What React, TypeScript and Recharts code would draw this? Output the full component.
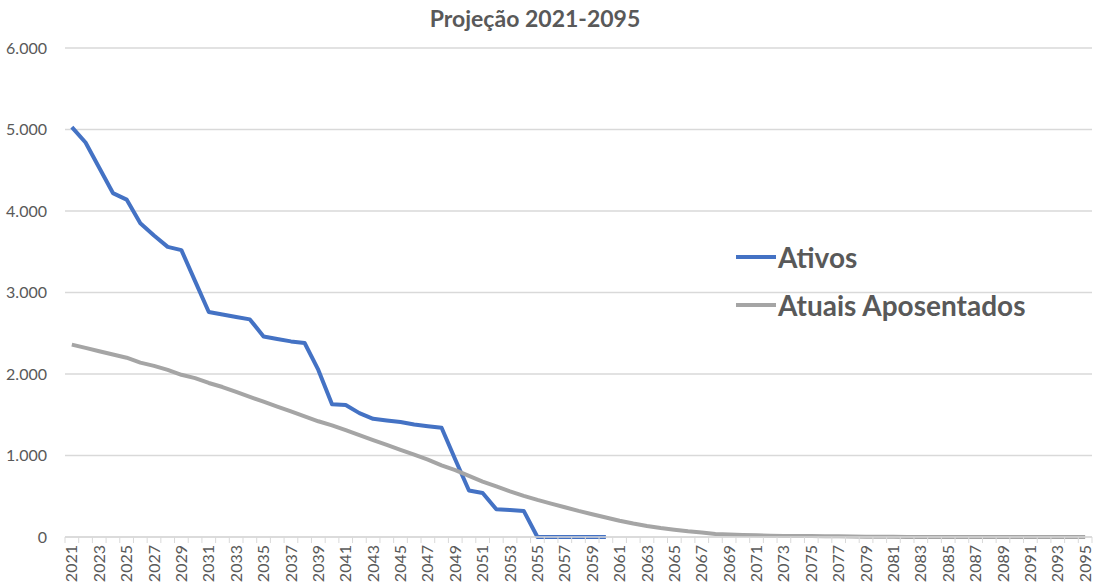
import { CartesianGrid, Legend, Line, LineChart, XAxis, YAxis } from "recharts";

const TEXT = "#595959";
const GRID = "#d9d9d9";
const BLUE = "#4472C4";
const GRAY = "#A5A5A5";
const FONT = "Lato, 'Open Sans', sans-serif";

const W = 1093;
const H = 582;
const PLOT_LEFT = 65;
const PLOT_RIGHT = 1092;
const BAND = (PLOT_RIGHT - PLOT_LEFT) / 75;

const years = Array.from({ length: 75 }, (_, i) => String(2021 + i));

// Ativos: ends at 2060
const ativos: (number | null)[] = [
  5030, 4840, 4530, 4220, 4140, 3850, 3700, 3560, 3520, 3140,
  2760, 2730, 2700, 2670, 2460, 2430, 2400, 2380, 2050, 1630,
  1620, 1520, 1450, 1430, 1410, 1380, 1360, 1340, 950, 570,
  540, 340, 330, 320, 0, 0, 0, 0, 0, 0,
];

const aposentados = [
  2360, 2320, 2280, 2240, 2200, 2140, 2100, 2050, 1990, 1950,
  1890, 1840, 1780, 1720, 1660, 1600, 1540, 1480, 1420, 1370,
  1310, 1250, 1190, 1130, 1070, 1010, 950, 880, 820, 750,
  680, 620, 560, 505, 455, 410, 365, 320, 280, 240,
  200, 165, 135, 110, 90, 70, 55, 38, 30, 25,
  20, 16, 13, 12, 11, 10, 8, 5, 3, 2,
  2, 1, 1, 1, 1, 0, 0, 0, 0, 0,
  0, 0, 0, 0, 0,
];

const yTicks = [0, 1000, 2000, 3000, 4000, 5000, 6000];

const data = years.map((year, i) => ({
  year,
  ativos: i < ativos.length ? ativos[i] : null,
  aposentados: aposentados[i],
}));

const fmt = (v: number) => v.toLocaleString("pt-BR");

const YearTick = (props: any) => {
  const { x, y, payload, index } = props;
  const i = payload?.index ?? index ?? 0;
  return (
    <g>
      <line x1={x - BAND / 2} x2={x - BAND / 2} y1={y} y2={y + 6} stroke={GRID} />
      {i === years.length - 1 && (
        <line x1={x + BAND / 2} x2={x + BAND / 2} y1={y} y2={y + 6} stroke={GRID} />
      )}
      {i % 2 === 0 && (
        <text
          x={x}
          y={y + 8}
          dy="0.35em"
          transform={`rotate(-90, ${x}, ${y + 8})`}
          textAnchor="end"
          fill={TEXT}
          fontSize={16}
          fontFamily={FONT}
        >
          {payload.value}
        </text>
      )}
    </g>
  );
};

const renderLegend = (props: any) => {
  const items = props.payload ?? [];
  return (
    <div>
      {items.map((item: any) => (
        <div
          key={item.value}
          style={{ display: "flex", alignItems: "center", height: 48 }}
        >
          <div style={{ width: 40, height: 4, background: item.color }} />
          <span
            style={{
              color: TEXT,
              fontWeight: 700,
              fontSize: 28,
              fontFamily: FONT,
              marginLeft: 2,
            }}
          >
            {item.value}
          </span>
        </div>
      ))}
    </div>
  );
};

export default function App() {
  return (
    <div style={{ position: "absolute", left: 0, top: 0, width: W, height: H, background: "#fff" }}>
      <div
        style={{
          position: "absolute",
          left: 0,
          top: 4,
          width: 1070,
          textAlign: "center",
          color: TEXT,
          fontFamily: FONT,
          fontWeight: 700,
          fontSize: 23,
        }}
      >
        Projeção 2021-2095
      </div>
      <LineChart
        width={W}
        height={H}
        data={data}
        margin={{ top: 48, right: W - PLOT_RIGHT, bottom: 0, left: 0 }}
      >
        <CartesianGrid vertical={false} stroke={GRID} strokeWidth={1.3} />
        <XAxis
          dataKey="year"
          interval={0}
          height={H - 537}
          padding={{ left: BAND / 2, right: BAND / 2 }}
          axisLine={{ stroke: GRID, strokeWidth: 1.3 }}
          tickLine={false}
          tickSize={0}
          tickMargin={0}
          tick={<YearTick />}
        />
        <YAxis
          width={PLOT_LEFT}
          domain={[0, 6000]}
          ticks={yTicks}
          axisLine={false}
          tickLine={false}
          tickFormatter={fmt}
          tick={{ fill: TEXT, fontSize: 16, fontFamily: FONT }}
          tickMargin={12}
        />
        <Legend
          layout="vertical"
          verticalAlign="middle"
          align="center"
          content={renderLegend}
          wrapperStyle={{ left: 736, top: 233, width: 350 }}
        />
        <Line
          name="Ativos"
          dataKey="ativos"
          stroke={BLUE}
          strokeWidth={4}
          strokeLinejoin="round"
          dot={false}
          activeDot={false}
          connectNulls={false}
          isAnimationActive={false}
        />
        <Line
          name="Atuais Aposentados"
          dataKey="aposentados"
          stroke={GRAY}
          strokeWidth={4}
          strokeLinejoin="round"
          dot={false}
          activeDot={false}
          isAnimationActive={false}
        />
      </LineChart>
    </div>
  );
}
